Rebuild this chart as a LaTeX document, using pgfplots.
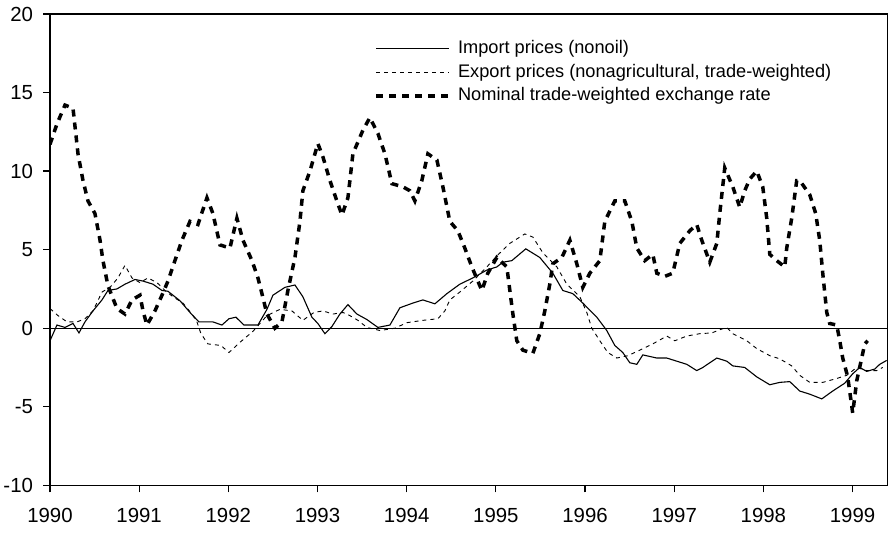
\documentclass[border=0pt]{standalone}
\usepackage{fontspec}
\setmainfont{Liberation Sans}
\usepackage{pgfplots}
\pgfplotsset{compat=1.18}
\begin{document}
\begin{tikzpicture}
\begin{axis}[name=ax, scale only axis, width=418.65pt, height=235.65pt,
 xmin=1990, xmax=1999.39, ymin=-10, ymax=20,
 xtick={1990,1991,...,1999}, ytick={-10,-5,...,20},
 /pgf/number format/assume math mode=true,
 /pgf/number format/1000 sep={},
 tick align=outside, major tick length=3.5pt,
 xtick pos=left, ytick pos=left,
 axis line style={line width=0.7pt},
 tick style={line width=0.6pt, black},
 ticklabel style={font=\fontsize{10.2}{12}\selectfont},
 xticklabel style={yshift=-4.5pt},
 yticklabel style={xshift=-1.5pt},
 legend style={draw=none, fill=none, at={(axis cs:1993.64,18.35)}, anchor=north west,
   font=\fontsize{9.1}{10}\selectfont, inner sep=0pt, outer sep=0pt,
   row sep=3pt, column sep=3.5pt,
   nodes={inner sep=0pt, text height=6.8pt, text depth=2pt}},
 legend cell align=left,
 legend image code/.code={\draw[#1] (0pt,0pt) -- (36.5pt,0pt);},
]
\addplot[forget plot, black, line width=0.5pt] coordinates {(1990,0) (1999.39,0)};

\addplot[black, line width=0.55pt] coordinates {
(1990.000,-0.8) (1990.078,0.2) (1990.168,0.05) (1990.258,0.3) (1990.325,-0.3)
(1990.392,0.4) (1990.482,1.1) (1990.583,1.8) (1990.650,2.4) (1990.751,2.5)
(1990.841,2.8) (1990.953,3.1) (1991.043,3.0) (1991.155,2.8) (1991.256,2.4)
(1991.323,2.35) (1991.457,1.75) (1991.570,1.0) (1991.670,0.4) (1991.827,0.4)
(1991.928,0.2) (1992.007,0.6) (1992.085,0.7) (1992.175,0.2) (1992.332,0.2)
(1992.433,1.2) (1992.500,2.1) (1992.635,2.6) (1992.747,2.75) (1992.836,2.0)
(1992.937,0.7) (1993.004,0.3) (1993.083,-0.35) (1993.161,0.1) (1993.251,0.9)
(1993.341,1.5) (1993.442,0.9) (1993.554,0.55) (1993.677,0.05) (1993.812,0.2)
(1993.924,1.3) (1994.070,1.6) (1994.182,1.8) (1994.316,1.55) (1994.451,2.2)
(1994.596,2.8) (1994.742,3.2) (1994.899,3.7) (1995.011,3.9) (1995.078,4.2)
(1995.179,4.3) (1995.336,5.05) (1995.493,4.5) (1995.639,3.5) (1995.751,2.4)
(1995.863,2.2) (1995.975,1.6) (1996.132,0.7) (1996.244,-0.15) (1996.334,-1.1)
(1996.424,-1.55) (1996.502,-2.2) (1996.581,-2.3) (1996.648,-1.7) (1996.805,-1.9)
(1996.917,-1.9) (1997.029,-2.1) (1997.141,-2.3) (1997.253,-2.7) (1997.321,-2.5)
(1997.478,-1.9) (1997.590,-2.1) (1997.657,-2.4) (1997.791,-2.5) (1997.926,-3.1)
(1998.072,-3.6) (1998.184,-3.45) (1998.296,-3.4) (1998.408,-4.0) (1998.520,-4.2)
(1998.655,-4.5) (1998.778,-4.0) (1998.913,-3.5) (1999.002,-2.9) (1999.081,-2.5)
(1999.159,-2.75) (1999.249,-2.6) (1999.305,-2.3) (1999.383,-2.05)
};
\addlegendentry{Import prices (nonoil)}

\addplot[black, line width=0.45pt, dash pattern=on 2pt off 2pt] coordinates {
(1990.000,1.25) (1990.090,0.8) (1990.191,0.4) (1990.303,0.4) (1990.392,0.6)
(1990.482,1.1) (1990.583,2.3) (1990.673,2.6) (1990.762,3.2) (1990.841,4.0)
(1990.919,3.2) (1991.009,2.9) (1991.099,3.2) (1991.200,2.9) (1991.289,2.4)
(1991.379,2.0) (1991.491,1.6) (1991.592,0.9) (1991.648,0.4) (1991.693,-0.35)
(1991.771,-1.0) (1991.917,-1.1) (1992.007,-1.55) (1992.130,-0.9) (1992.276,-0.2)
(1992.433,0.8) (1992.578,1.2) (1992.713,1.1) (1992.836,0.5) (1992.960,1.0)
(1993.061,1.1) (1993.173,0.9) (1993.285,1.0) (1993.363,0.8) (1993.453,0.5)
(1993.554,0.05) (1993.700,-0.15) (1993.868,0.0) (1994.002,0.35) (1994.182,0.5)
(1994.350,0.6) (1994.428,1.1) (1994.484,1.8) (1994.596,2.3) (1994.742,3.0)
(1994.899,3.9) (1995.011,4.6) (1995.157,5.4) (1995.325,6.0) (1995.415,5.8)
(1995.527,4.8) (1995.684,3.9) (1995.796,2.8) (1995.942,2.0) (1996.020,1.0)
(1996.076,0.0) (1996.166,-0.8) (1996.256,-1.55) (1996.357,-1.9) (1996.480,-1.75)
(1996.614,-1.4) (1996.760,-1.0) (1996.917,-0.5) (1997.007,-0.8) (1997.141,-0.5)
(1997.287,-0.35) (1997.422,-0.3) (1997.511,-0.1) (1997.590,0.05) (1997.657,-0.35)
(1997.814,-0.8) (1997.926,-1.3) (1998.072,-1.75) (1998.184,-1.95) (1998.318,-2.4)
(1998.408,-3.0) (1998.520,-3.45) (1998.666,-3.45) (1998.823,-3.2) (1998.935,-3.0)
(1999.047,-2.5) (1999.159,-2.7) (1999.271,-2.7) (1999.339,-2.5)
};
\addlegendentry{Export prices (nonagricultural, trade-weighted)}

\addplot[black, line width=1.75pt, dash pattern=on 3.5pt off 3pt] coordinates {
(1990.000,11.7) (1990.078,13.0) (1990.168,14.2) (1990.258,14.0) (1990.314,11.1)
(1990.370,9.4) (1990.426,8.1) (1990.504,7.3) (1990.561,5.6) (1990.594,4.3)
(1990.650,2.7) (1990.751,1.25) (1990.841,0.9) (1990.919,1.8) (1991.009,2.1)
(1991.043,1.1) (1991.087,0.2) (1991.177,1.1) (1991.256,2.1) (1991.323,3.0)
(1991.401,4.3) (1991.480,5.6) (1991.570,6.8) (1991.659,6.6) (1991.760,8.3)
(1991.827,7.3) (1991.906,5.3) (1992.018,5.1) (1992.096,7.0) (1992.164,5.6)
(1992.265,4.3) (1992.332,3.2) (1992.377,2.2) (1992.433,0.9) (1992.522,0.0)
(1992.601,0.4) (1992.668,2.4) (1992.747,4.5) (1992.803,6.8) (1992.836,8.75)
(1992.915,10.0) (1993.004,11.75) (1993.061,10.9) (1993.139,9.4) (1993.217,8.1)
(1993.274,7.2) (1993.341,8.3) (1993.397,11.1) (1993.509,12.6) (1993.587,13.4)
(1993.677,12.4) (1993.756,11.1) (1993.834,9.2) (1993.957,9.0) (1994.036,8.75)
(1994.092,8.1) (1994.170,9.4) (1994.238,11.1) (1994.339,10.7) (1994.406,9.0)
(1994.484,6.8) (1994.574,6.2) (1994.652,5.1) (1994.731,3.9) (1994.843,2.4)
(1994.910,3.5) (1995.011,4.5) (1995.123,3.9) (1995.157,2.4) (1995.191,0.9)
(1995.235,-0.8) (1995.303,-1.4) (1995.415,-1.6) (1995.493,-0.35) (1995.549,1.1)
(1995.605,2.8) (1995.639,4.1) (1995.740,4.5) (1995.830,5.6) (1995.908,4.1)
(1995.975,2.6) (1996.054,3.5) (1996.166,4.3) (1996.222,6.8) (1996.334,8.1)
(1996.446,8.1) (1996.525,6.8) (1996.581,5.1) (1996.670,4.3) (1996.760,4.7)
(1996.805,3.5) (1996.895,3.3) (1996.984,3.5) (1997.063,5.4) (1997.175,6.2)
(1997.253,6.6) (1997.309,5.6) (1997.399,4.2) (1997.478,5.4) (1997.511,7.3)
(1997.567,10.2) (1997.657,9.0) (1997.735,7.7) (1997.791,8.75) (1997.848,9.5)
(1997.926,10.0) (1997.993,9.0) (1998.038,7.0) (1998.072,4.7) (1998.150,4.3)
(1998.240,3.9) (1998.262,5.1) (1998.318,7.0) (1998.374,9.4) (1998.408,9.4)
(1998.520,8.5) (1998.587,7.3) (1998.632,5.6) (1998.666,3.5) (1998.711,1.0)
(1998.744,0.3) (1998.823,0.2) (1998.857,-0.8) (1998.890,-1.9) (1998.946,-3.1)
(1999.002,-5.4) (1999.047,-3.35) (1999.103,-1.9) (1999.137,-1.0) (1999.170,-0.8)
};
\addlegendentry{Nominal trade-weighted exchange rate}
\end{axis}
\pgfresetboundingbox
\path[use as bounding box] ([xshift=-25pt,yshift=-23.85pt]ax.south west) rectangle ([xshift=0.85pt,yshift=7pt]ax.north east);
\end{tikzpicture}
\end{document}
